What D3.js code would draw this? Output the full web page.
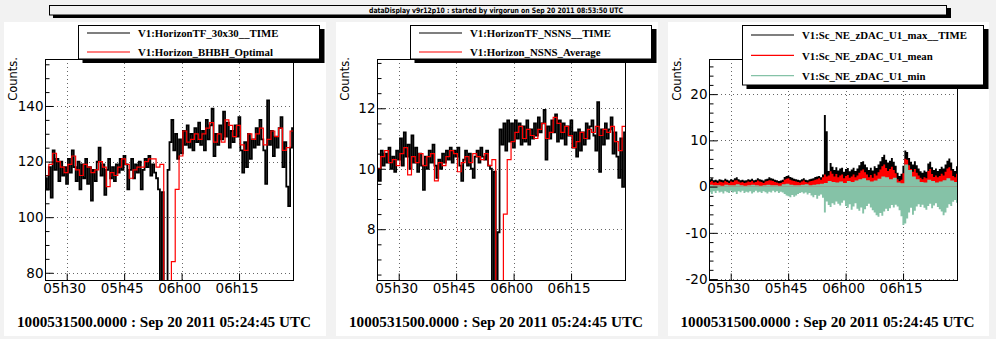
<!DOCTYPE html>
<html><head><meta charset="utf-8">
<script src="https://cdn.jsdelivr.net/npm/d3@7"></script>
<style>body{margin:0;background:#f2f2f2;} svg{display:block}</style>
</head><body><svg id="c" width="996" height="339"></svg>
<script>
// ---------- data ----------
const titleText = "dataDisplay v9r12p10 : started by virgorun on Sep 20 2011 08:53:50 UTC";
const footerText = "1000531500.0000 : Sep 20 2011 05:24:45 UTC";
const yTitle = "Counts.";
const xTickLabels = ["05:30", "05:45", "06:00", "06:15"];
const xDomain = ["05:24:20", "06:29:05"];
const dataStart = "05:24:20";

const p1Legend = ["V1:HorizonTF_30x30__TIME", "V1:Horizon_BHBH_Optimal"];
const p2Legend = ["V1:HorizonTF_NSNS__TIME", "V1:Horizon_NSNS_Average"];
const p3Legend = ["V1:Sc_NE_zDAC_U1_max__TIME", "V1:Sc_NE_zDAC_U1_mean", "V1:Sc_NE_zDAC_U1_min"];

const p1YDomain = [77.4, 156.9], p1YMajor = [80, 100, 120, 140], p1YMinorStep = 5;
const p2YDomain = [6.32, 13.63], p2YMajor = [8, 10, 12], p2YMinorStep = 0.5;
const p3YDomain = [-20.2, 27.6], p3YMajor = [-20, -10, 0, 10, 20], p3YMinorStep = 2;

// 30 s samples
const p1Black = [114,110,118,107,124,117,121,113,120,115,
118,112,121,116,124,118,113,120,110,119,
114,121,112,118,106,117,113,120,125,115,
119,108,117,121,114,118,113,119,116,121,
117,122,119,110,117,121,114,119,116,120,
110,117,121,118,122,115,119,116,114,110,
60,109,60,60,117,
127,135,124,130,121,128,123,131,126,133,
125,130,124,132,127,134,126,131,124,135,
128,133,139,122,130,126,133,128,138,129,
134,125,131,127,133,129,136,124,116,127,
118,130,121,128,125,132,126,135,128,124,
112,142,126,131,122,129,125,132,136,118,
127,111,104,125,132];
// 60 s samples
const p1Red = [115,119,123,120,118,116,119,122,117,115,
119,118,116,117,120,118,111,116,115,118,
121,119,114,117,118,118,120,121,121,118,
119,60,60,84,110,122,131,127,128,130,
128,130,132,134,127,130,127,135,133,129,
133,126,124,130,128,130,132,126,128,131,
129,132,124,125,131];

const p2Black = [10.0,9.6,10.6,10.1,10.5,10.2,10.7,10.0,10.4,9.9,
10.6,10.3,11.0,10.1,11.2,10.4,10.8,10.0,11.1,10.2,
10.7,9.9,10.5,10.1,9.3,10.4,10.0,10.6,10.2,10.8,
10.1,9.7,10.3,10.0,10.5,10.2,10.6,10.3,10.7,10.2,
10.6,10.4,10.7,10.1,9.6,10.3,10.6,10.1,10.5,10.0,
9.7,10.4,10.6,10.2,10.7,10.4,10.3,10.6,10.1,10.0,
6.0,9.9,6.0,7.9,11.3,
10.8,11.5,10.6,11.6,10.9,11.5,10.7,11.6,11.0,11.5,
10.8,11.4,10.9,11.6,10.8,11.3,11.0,11.5,11.1,11.7,
11.2,11.5,11.95,10.3,11.4,11.0,11.6,11.2,11.8,10.9,
11.6,11.0,11.5,10.8,11.4,11.1,11.6,10.7,11.2,10.4,
11.3,10.6,11.2,10.8,11.5,11.0,11.4,11.6,11.1,10.6,
12.2,9.9,11.3,10.8,11.5,11.0,11.3,11.7,10.5,11.2,
10.4,9.7,11.0,9.4,11.2];
const p2Red = [10.0,10.4,10.6,10.2,10.3,10.1,10.5,10.7,9.8,10.4,
10.2,10.5,10.1,10.4,10.5,9.6,10.2,10.1,10.4,10.6,
10.5,9.9,10.2,10.4,10.2,10.5,10.4,10.3,10.5,10.1,
10.3,6.0,6.0,8.5,10.3,10.9,11.2,11.4,11.0,11.3,
11.1,11.0,11.3,11.5,11.0,11.2,11.7,11.5,11.2,11.4,
11.1,10.7,10.9,11.2,11.0,11.3,11.2,11.4,11.1,11.3,
11.2,11.4,10.9,10.6,11.4];

// panel 3: upper edge of max (30 s), upper edge of mean (30 s), upper edge of min (60 s), lower edge of min (30 s)
const p3Max = [1.6,1.8,1.4,1.5,1.3,1.6,1.5,1.4,1.7,1.5,
1.3,1.6,1.5,1.8,2.0,1.6,1.4,1.5,1.3,1.4,
1.6,1.5,1.7,1.4,1.5,1.8,1.6,1.5,1.3,1.6,
1.7,2.0,1.8,1.7,1.5,1.4,1.2,1.3,1.5,2.1,
2.3,2.4,2.1,1.9,1.7,1.6,1.5,1.4,1.6,1.8,
1.5,1.4,1.6,1.7,1.8,2.1,2.2,2.3,
2.0,2.6,15.5,12.0,
3.4,5.1,4.3,3.6,4.2,3.5,3.9,4.1,3.2,3.8,
4.0,3.3,3.7,4.1,3.4,3.9,4.6,5.3,5.5,4.8,
4.2,3.6,4.1,3.5,4.4,4.0,4.8,5.5,6.4,6.9,
5.8,5.2,5.6,6.2,5.4,4.5,3.0,2.3,2.8,4.5,
7.8,7.5,6.2,5.4,4.8,5.5,4.6,3.9,3.3,3.0,
3.5,3.2,5.0,5.4,4.2,3.6,3.9,3.4,3.8,4.3,
3.9,4.8,5.6,6.1,5.2,3.8,3.4,4.4];
const p3Mean = [1.0,1.2,0.9,1.0,0.8,1.1,1.0,0.9,1.2,1.0,
0.8,1.1,1.0,1.3,1.4,1.1,0.9,1.0,0.8,0.9,
1.1,1.0,1.2,0.9,1.0,1.3,1.1,1.0,0.8,1.1,
1.2,1.4,1.3,1.2,1.0,0.9,0.7,0.8,1.0,1.5,
1.7,1.8,1.5,1.3,1.2,1.1,1.0,0.9,1.1,1.3,
1.0,0.9,1.1,1.2,1.3,1.5,1.6,1.8,
1.5,2.0,2.6,2.2,
2.4,3.3,2.8,2.2,2.7,2.0,2.4,2.6,1.8,2.3,
2.5,1.9,2.2,2.6,2.0,2.4,3.0,3.5,3.7,3.1,
2.6,2.0,2.5,1.9,2.8,2.4,3.1,3.7,4.4,4.8,
4.0,3.4,3.8,4.3,3.6,2.9,1.6,1.2,1.5,2.9,
6.0,5.8,4.6,3.8,3.2,3.8,3.0,2.4,1.9,1.6,
2.0,1.8,3.4,3.8,2.7,2.1,2.4,2.0,2.3,2.8,
2.4,3.2,3.9,4.2,3.5,2.3,2.0,2.8];
const p3MinTop = [0.4,0.3,0.3,0.2,0.4,0.3,0.3,0.5,0.3,0.2,
0.3,0.4,0.3,0.2,0.3,0.4,0.3,0.3,0.2,0.5,
0.6,0.4,0.3,0.3,0.4,0.5,0.3,0.4,0.5,0.6,
0.8,1.2,1.0,0.9,1.1,0.8,1.2,1.0,1.3,1.6,
1.8,1.4,1.1,1.3,1.7,2.2,2.0,1.6,1.9,0.9,
0.7,4.8,3.6,2.2,1.6,1.0,0.9,1.5,1.2,0.9,
1.1,1.4,1.8,1.3,1.0];
const p3MinLow = [-1.2,-1.6,-1.0,-1.4,-0.9,-1.3,-1.1,-1.5,-1.0,-1.2,
-1.4,-0.9,-1.3,-1.1,-1.6,-1.0,-1.2,-0.9,-1.4,-1.1,
-1.3,-1.0,-1.5,-1.2,-0.9,-1.3,-1.1,-1.4,-1.0,-1.2,
-1.5,-1.1,-1.3,-0.9,-1.2,-1.0,-1.4,-1.1,-1.3,-1.6,
-1.9,-2.1,-2.3,-1.8,-2.2,-1.9,-1.6,-1.4,-1.2,-1.5,
-1.3,-1.7,-1.4,-1.9,-2.3,-1.8,-2.6,-2.0,
-1.7,-2.4,-5.6,-3.2,
-4.0,-4.4,-3.6,-3.9,-3.2,-3.7,-4.1,-3.5,-3.0,-4.2,
-4.6,-3.8,-5.0,-4.3,-3.6,-4.8,-5.2,-4.5,-5.8,-4.9,
-4.2,-3.7,-4.5,-5.1,-5.6,-6.2,-6.5,-5.7,-6.3,-5.4,
-4.8,-5.3,-4.7,-4.0,-4.5,-3.9,-4.3,-5.1,-6.4,-8.3,
-8.0,-6.9,-5.6,-4.6,-6.1,-5.2,-4.3,-3.8,-4.4,-3.9,
-4.6,-5.0,-4.2,-3.7,-4.7,-4.1,-3.6,-4.4,-4.9,-5.4,
-6.2,-5.6,-4.6,-3.8,-4.2,-3.3,-2.9,-3.5];

// ---------- drawing ----------
const svg = d3.select("#c");
const T = s => { const [h, m, sec] = s.split(":").map(Number); return new Date(Date.UTC(2011, 8, 20, h, m, sec || 0)); };
const t0 = T(dataStart);
const series = (vals, stepSec) => vals.map((v, i) => ({t: new Date(+t0 + i * stepSec * 1000), v}))
  .concat([{t: new Date(+t0 + vals.length * stepSec * 1000), v: vals[vals.length - 1]}]);

const RED = "#ff0000", GREEN = "#85c2a7";
const SANS = "DejaVu Sans", SERIF = "Liberation Serif";

// title bar
svg.append("rect").attr("x", 53).attr("y", 8).attr("width", 898).attr("height", 10).attr("fill", "#000");
svg.append("rect").attr("x", 49.5).attr("y", 5.5).attr("width", 897).attr("height", 9.5).attr("fill", "#f2f2f2").attr("stroke", "#000");
svg.append("text").attr("x", 496).attr("y", 13.3).attr("text-anchor", "middle")
  .attr("font-family", SANS).attr("font-weight", "bold").attr("font-size", 7.5)
  .attr("textLength", 254).attr("lengthAdjust", "spacingAndGlyphs").text(titleText);

const pads = [
  {x: 4, w: 322, yDom: p1YDomain, major: p1YMajor, minorStep: p1YMinorStep, legend: p1Legend, colors: ["#000", RED]},
  {x: 336, w: 322, yDom: p2YDomain, major: p2YMajor, minorStep: p2YMinorStep, legend: p2Legend, colors: ["#000", RED]},
  {x: 668, w: 321, yDom: p3YDomain, major: p3YMajor, minorStep: p3YMinorStep, legend: p3Legend, colors: ["#000", RED, GREEN]}
];
const PAD_Y = 22, PAD_H = 314;
const FL = 41, FR = 289, FT = 37, FB = 258;

pads.forEach((p, k) => {
  const g = svg.append("g").attr("transform", `translate(${p.x},${PAD_Y})`);
  g.append("rect").attr("width", p.w).attr("height", PAD_H).attr("fill", "#fff");

  const x = d3.scaleUtc().domain(xDomain.map(T)).range([FL, FR]);
  const y = d3.scaleLinear().domain(p.yDom).range([FB, FT]);
  const xt = xTickLabels.map(T);
  const minors = d3.range(Math.ceil(p.yDom[0] / p.minorStep) * p.minorStep, p.yDom[1], p.minorStep)
    .filter(v => !p.major.some(m => Math.abs(m - v) < 1e-9));

  // grid
  const grid = g.append("g").attr("stroke", "#666").attr("stroke-width", 1).attr("stroke-dasharray", "1,3");
  xt.forEach(t => grid.append("line").attr("x1", Math.round(x(t)) + 0.5).attr("x2", Math.round(x(t)) + 0.5).attr("y1", FT).attr("y2", FB));
  p.major.forEach(v => grid.append("line").attr("y1", Math.round(y(v)) + 0.5).attr("y2", Math.round(y(v)) + 0.5).attr("x1", FL).attr("x2", FR));

  // data
  const cid = "clip" + k;
  g.append("clipPath").attr("id", cid).append("rect").attr("x", FL).attr("y", FT).attr("width", FR - FL).attr("height", FB - FT);
  const dg = g.append("g").attr("clip-path", `url(#${cid})`);
  const line = d3.line().curve(d3.curveStepAfter).x(d => x(d.t)).y(d => y(d.v));
  if (k < 2) {
    const blk = k === 0 ? p1Black : p2Black, red = k === 0 ? p1Red : p2Red;
    dg.append("path").attr("d", line(series(blk, 30))).attr("fill", "none").attr("stroke", "#000").attr("stroke-width", 1.8);
    dg.append("path").attr("d", line(series(red, 60))).attr("fill", "none").attr("stroke", RED).attr("stroke-width", 1.2);
  } else {
    const area = d3.area().curve(d3.curveStepAfter).x(d => x(d.t)).y0(y(0)).y1(d => y(d.v));
    dg.append("path").attr("d", area(series(p3Max, 30))).attr("fill", "#000");
    dg.append("path").attr("d", area(series(p3Mean, 30))).attr("fill", RED);
    dg.append("path").attr("d", area(series(p3MinLow, 30))).attr("fill", GREEN);
    dg.append("path").attr("d", area(series(p3MinTop, 60))).attr("fill", GREEN);
  }

  // frame
  g.append("rect").attr("x", FL + 0.5).attr("y", FT + 0.5).attr("width", FR - FL).attr("height", FB - FT)
    .attr("fill", "none").attr("stroke", "#000");

  // y axis
  const ya = g.append("g").attr("transform", `translate(${FL + 0.5},0)`)
    .call(d3.axisLeft(y).tickValues(p.major).tickSizeInner(-8).tickSizeOuter(0).tickPadding(2)
      .tickFormat(d => String(d)));
  ya.select(".domain").remove();
  ya.selectAll("text").attr("font-family", SANS).attr("font-size", 13.5).attr("fill", "#000");
  const ym = g.append("g").attr("transform", `translate(${FL + 0.5},0)`)
    .call(d3.axisLeft(y).tickValues(minors).tickSizeInner(-4).tickSizeOuter(0).tickFormat(""));
  ym.select(".domain").remove();

  // x axis
  const xa = g.append("g").attr("transform", `translate(0,${FB + 0.5})`)
    .call(d3.axisBottom(x).tickValues(xt).tickSizeInner(-7).tickSizeOuter(0).tickPadding(3)
      .tickFormat(d3.utcFormat("%Hh%M")));
  xa.select(".domain").remove();
  xa.selectAll("text").attr("font-family", SANS).attr("font-size", 13.5).attr("fill", "#000").attr("dx", -2.5);

  // y title
  g.append("text").attr("transform", `translate(13,${FT - 2}) rotate(-90)`).attr("text-anchor", "end")
    .attr("font-family", SANS).attr("font-size", 11.5).attr("fill", "#000").text(yTitle);

  // legend
  const n = p.legend.length;
  const lh = n === 2 ? 34 : 60, r0 = n === 2 ? 11 : 13, gap = n === 2 ? 19 : 20.3;
  const lg = g.append("g");
  lg.append("rect").attr("x", 78.5).attr("y", 7).attr("width", 242).attr("height", lh).attr("fill", "#000");
  lg.append("rect").attr("x", 74.5).attr("y", 3.5).attr("width", 241).attr("height", lh - 0.5).attr("fill", "#fff").attr("stroke", "#000");
  p.legend.forEach((name, i) => {
    const yy = r0 + gap * i;
    lg.append("line").attr("x1", 83).attr("x2", 126).attr("y1", yy).attr("y2", yy).attr("stroke", p.colors[i]).attr("stroke-width", 1.2);
    lg.append("text").attr("x", 134).attr("y", yy + 4.3).attr("font-family", SERIF).attr("font-weight", "bold")
      .attr("font-size", 10.8).attr("fill", "#000").text(name);
  });

  // footer
  g.append("text").attr("x", p.w / 2 - 1).attr("y", 305).attr("text-anchor", "middle")
    .attr("font-family", SERIF).attr("font-weight", "bold").attr("font-size", 15.2).attr("fill", "#000").text(footerText);
});
</script></body></html>
